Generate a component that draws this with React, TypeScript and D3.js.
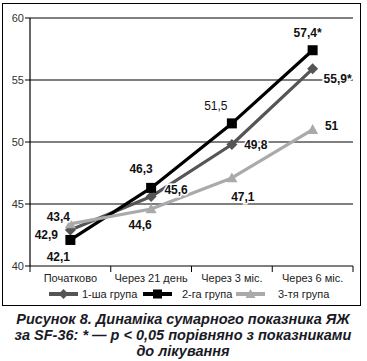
import React from "react";
import * as d3 from "d3";

const categories = ["Початково", "Через 21 день", "Через 3 міс.", "Через 6 міс."];
const group1 = [42.9, 45.6, 49.8, 55.9];
const group2 = [42.1, 46.3, 51.5, 57.4];
const group3 = [43.4, 44.6, 47.1, 51];
const labels1 = ["42,9", "45,6", "49,8", "55,9*"];
const labels2 = ["42,1", "46,3", "51,5", "57,4*"];
const labels3 = ["43,4", "44,6", "47,1", "51"];
const seriesNames = ["1-ша група", "2-га група", "3-тя група"];
const yTicks = [40, 45, 50, 55, 60];
const captionLines = [
  "Рисунок 8. Динаміка сумарного показника ЯЖ",
  "за SF-36: * — p < 0,05 порівняно з показниками",
  "до лікування",
];

const W = 367;
const H = 361;
const left = 30;
const right = 353;
const top = 18;
const bottom = 266;

export default function App() {
  const x = d3.scaleBand<string>().domain(categories).range([left, right]);
  const y = d3.scaleLinear().domain([40, 60]).range([bottom, top]);
  const cx = (i: number) => (x(categories[i]) as number) + x.bandwidth() / 2;
  const line = d3
    .line<number>()
    .x((_, i) => cx(i))
    .y((v) => y(v));

  const series = [
    { data: group1, labels: labels1, color: "#555555", marker: "diamond", width: 3.2 },
    { data: group2, labels: labels2, color: "#000000", marker: "square", width: 3.2 },
    { data: group3, labels: labels3, color: "#aaaaaa", marker: "triangle", width: 3.2 },
  ];

  // label offsets (dx, dy) of the label centre relative to the point
  const labelOffsets = [
    [[-24, 5], [25, -7], [24, 1], [25, 10]],
    [[-12, 17], [-10, -19], [-16, -17], [-5, -17]],
    [[-12, -7], [-11, 16], [11, 19], [19, -4]],
  ];
  const labelBold = [
    [true, true, true, true],
    [true, true, false, true],
    [true, true, true, true],
  ];

  const marker = (type: string, px: number, py: number, color: string, s = 1) => {
    if (type === "diamond") {
      const r = 5.5 * s;
      return <path d={`M${px},${py - r}L${px + r},${py}L${px},${py + r}L${px - r},${py}Z`} fill={color} />;
    }
    if (type === "square") {
      const r = 5 * s;
      return <rect x={px - r} y={py - r} width={2 * r} height={2 * r} fill={color} />;
    }
    const r = 5.5 * s;
    return <path d={`M${px},${py - r}L${px + r},${py + r * 0.8}L${px - r},${py + r * 0.8}Z`} fill={color} />;
  };

  const legendItems = [
    { lx: 49, tx: 82 },
    { lx: 143, tx: 182 },
    { lx: 236, tx: 278 },
  ];
  const legendY = 294;

  return (
    <svg width={W} height={H} style={{ position: "absolute", left: 0, top: 0, fontFamily: "'Liberation Sans', Arial, sans-serif" }}>
      <rect x={0} y={0} width={W} height={H} fill="#fff" />
      <rect x={2.5} y={3.5} width={358} height={302} fill="none" stroke="#000" strokeWidth={1} />
      {yTicks.map((t) => (
        <g key={t}>
          <line x1={left - 5} x2={right} y1={y(t)} y2={y(t)} stroke="#000" strokeWidth={1.2} />
          <text x={left - 6} y={y(t) + 4} fontSize={11} textAnchor="end" fill="#333">
            {t}
          </text>
        </g>
      ))}
      <line x1={left} x2={left} y1={top} y2={bottom} stroke="#000" strokeWidth={1.2} />
      {[...categories.map((c) => x(c) as number), right].map((v, i) => (
        <line key={i} x1={v} x2={v} y1={bottom} y2={bottom + 6} stroke="#000" strokeWidth={1} />
      ))}
      {categories.map((c, i) => (
        <text key={c} x={cx(i)} y={bottom + 16} fontSize={11} textAnchor="middle" fill="#222">
          {c}
        </text>
      ))}
      {series.map((s, si) => (
        <g key={si}>
          <path d={line(s.data) || ""} fill="none" stroke={s.color} strokeWidth={s.width} strokeLinejoin="round" />
          {s.data.map((v, i) => (
            <g key={i}>{marker(s.marker, cx(i), y(v), s.color)}</g>
          ))}
        </g>
      ))}
      {series.map((s, si) =>
        s.data.map((v, i) => (
          <text
            key={`${si}-${i}`}
            x={cx(i) + labelOffsets[si][i][0]}
            y={y(v) + labelOffsets[si][i][1] + 4}
            fontSize={12}
            fontWeight={labelBold[si][i] ? "bold" : "normal"}
            textAnchor="middle"
            fill="#111"
            stroke="#fff"
            strokeWidth={3}
            style={{ paintOrder: "stroke" }}
          >
            {s.labels[i]}
          </text>
        ))
      )}
      {series.map((s, si) => (
        <g key={`lg${si}`}>
          <line x1={legendItems[si].lx} x2={legendItems[si].lx + 29} y1={legendY} y2={legendY} stroke={s.color} strokeWidth={4} />
          {marker(s.marker, legendItems[si].lx + 14.5, legendY, s.color, 0.9)}
          <text x={legendItems[si].tx} y={legendY + 4} fontSize={11} fill="#222">
            {seriesNames[si]}
          </text>
        </g>
      ))}
      {captionLines.map((l, i) => (
        <text
          key={i}
          x={183}
          y={324 + i * 16}
          fontSize={14.5}
          fontWeight="bold"
          fontStyle="italic"
          textAnchor="middle"
          fill="#1a1a26"
        >
          {l}
        </text>
      ))}
    </svg>
  );
}
